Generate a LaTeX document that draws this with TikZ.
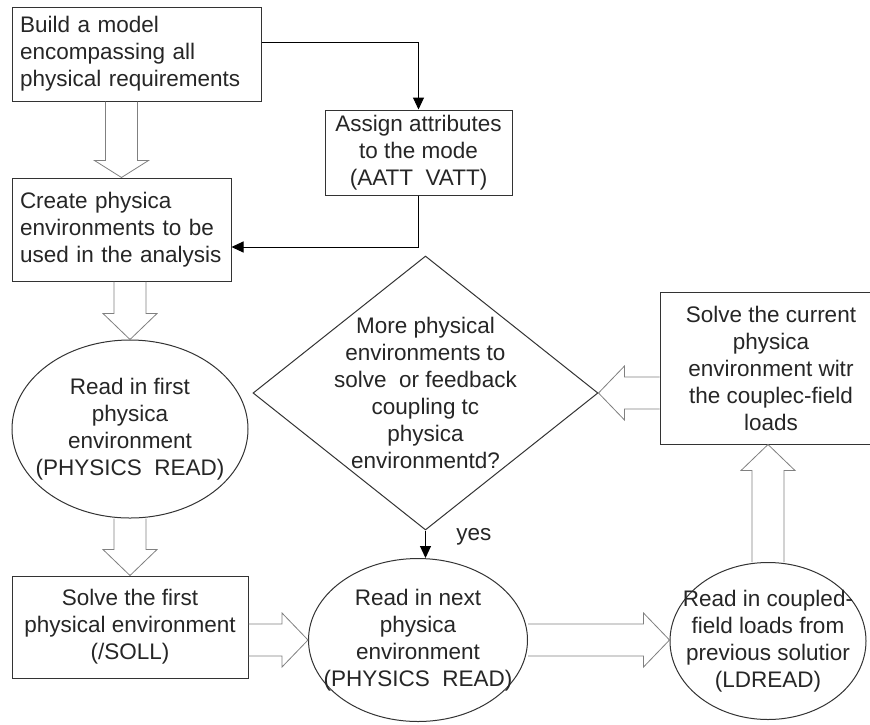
\documentclass[tikz,border=0pt]{standalone}
\usepackage{fontspec}
\setmainfont{Liberation Sans}
\usetikzlibrary{shapes.geometric,arrows.meta,calc}

\tikzset{
  box/.style={draw=black!80,line width=1pt,inner xsep=8pt,inner ysep=4pt},
  oval/.style={box,ellipse,align=center,inner sep=-30pt},
  choice/.style={box,diamond,align=center,inner sep=-30pt},
  fat/.style={draw=black!50,line width=0.8pt,line join=miter}
}
% hollow block arrow from #2 to #3, #1 = head length
\newcommand\fatarrow[3][26]{%
  \draw[fat] let \p1=(#2), \p2=(#3), \n1={atan2(\y2-\y1,\x2-\x1)}, \n2={veclen(\x2-\x1,\y2-\y1)} in
    [shift={(\p1)},rotate=\n1] (0,-16) -- (\n2-#1,-16) -- (\n2-#1,-27) -- (\n2,0) -- (\n2-#1,27) -- (\n2-#1,16) -- (0,16);}

\begin{document}
\begin{tikzpicture}[x=1pt,y=-1pt,font=\fontsize{22.5}{27}\selectfont,text=black!85,
    >={Triangle[length=12pt,width=11pt]}]
      \useasboundingbox[fill=white] (0,0) rectangle (870,724);

      \node[box,text width=233pt,align=left,minimum height=94pt] (1) at (136.5,54) {Build a model\\encompassing all\\physical requirements};
      \node[box,align=center,minimum width=187pt,minimum height=85pt] (2) at (418.5,152.5) {Assign attributes\\to the mode\\(AATT~ VATT)};
      \node[box,text width=203pt,align=left,minimum height=103pt] (3) at (121.5,229.5) {Create physica\\environments to be\\used in the analysis};
      \node[oval,minimum width=236pt,minimum height=178pt] (4) at (130,429) {Read in first\\physica\\environment\\(PHYSICS~ READ)};
      \node[box,align=center,minimum width=236pt,minimum height=102pt] (5) at (130,627) {Solve the first\\physical environment\\(/SOLL)};
      \node[oval,minimum width=219pt,minimum height=163pt] (6) at (418,640) {Read in next\\physica\\environment\\(PHYSICS~ READ)};
      \node[choice,minimum width=345pt,minimum height=274pt] (7) at (425.5,393) {More physical\\environments to\\solve~ or feedback\\coupling tc\\physica\\environmentd?};
      \node[box,align=center,minimum width=222pt,minimum height=152pt] (8) at (771,368) {Solve the current\\physica\\environment witr\\the couplec-field\\loads};
      \node[oval,minimum width=196pt,minimum height=157pt] (9) at (768,641) {Read in coupled-\\field loads from\\previous solutior\\(LDREAD)};

      \draw[line width=1pt,->] ([yshift=12pt]1.east) -| (2.north);
      \draw[line width=1pt,->] (2.south) |- ([yshift=-17.5pt]3.east);
      \draw[line width=1pt,->] (7.south) -- node[pos=0.24,right=27pt] (yes) {yes} (7.south |- 6.north);

      \fatarrow[17]{1.south -| 3.north}{3.north}
      \fatarrow{4.north |- 3.south}{4.north}
      \fatarrow{4.south}{5.north}
      \fatarrow{5.east |- 6.west}{6.west}
      \fatarrow{6.east}{6.east -| 9.west}
      \fatarrow{9.north}{9.north |- 8.south}
      \fatarrow{8.west |- 7.east}{7.east}
    \end{tikzpicture}
\end{document}
